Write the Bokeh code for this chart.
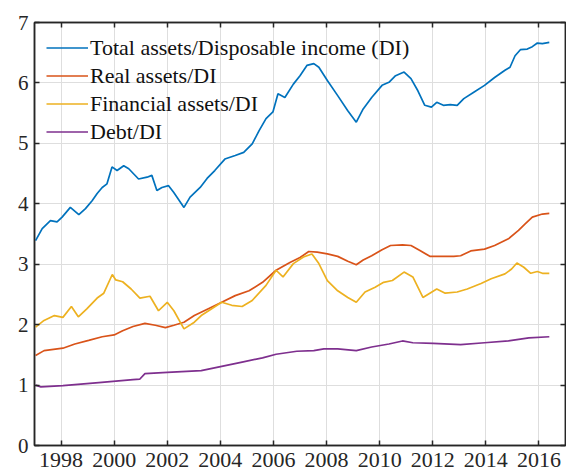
from bokeh.plotting import figure
from bokeh.models import LinearAxis, FixedTicker, Range1d
from bokeh.embed import file_html
from bokeh.resources import INLINE

# ---------------- data ----------------
total_x = [1997.04, 1997.29, 1997.6, 1997.85, 1998.04, 1998.35, 1998.67, 1998.92, 1999.17, 1999.36,
           1999.55, 1999.73, 1999.92, 2000.11, 2000.36, 2000.55, 2000.92, 2001.24, 2001.42, 2001.61,
           2001.8, 2002.05, 2002.24, 2002.63, 2002.86, 2003.24, 2003.5, 2003.79, 2004.17, 2004.56,
           2004.88, 2005.2, 2005.46, 2005.72, 2005.98, 2006.17, 2006.43, 2006.75, 2007.0, 2007.26,
           2007.52, 2007.71, 2008.03, 2008.42, 2008.8, 2009.12, 2009.38, 2009.7, 2010.09, 2010.35,
           2010.6, 2010.92, 2011.18, 2011.44, 2011.7, 2011.95, 2012.15, 2012.4, 2012.66, 2012.92,
           2013.17, 2013.56, 2013.95, 2014.33, 2014.72, 2014.91, 2015.1, 2015.3, 2015.56, 2015.75,
           2015.94, 2016.13, 2016.39]
total_y = [3.39, 3.59, 3.72, 3.70, 3.78, 3.94, 3.82, 3.92, 4.05, 4.17,
           4.27, 4.33, 4.61, 4.55, 4.63, 4.58, 4.41, 4.44, 4.47, 4.22,
           4.27, 4.30, 4.19, 3.94, 4.11, 4.27, 4.42, 4.55, 4.74, 4.80,
           4.85, 4.99, 5.21, 5.41, 5.52, 5.82, 5.76, 5.98, 6.12, 6.29,
           6.32, 6.26, 6.04, 5.79, 5.54, 5.35, 5.57, 5.76, 5.96, 6.01,
           6.12, 6.18, 6.07, 5.87, 5.63, 5.60, 5.68, 5.63, 5.64, 5.63,
           5.74, 5.85, 5.96, 6.09, 6.21, 6.26, 6.45, 6.55, 6.56, 6.60,
           6.66, 6.65, 6.67]

real_x = [1997.04, 1997.36, 1998.07, 1998.52, 1999.04, 1999.55, 2000.0, 2000.32, 2000.71, 2001.16,
          2001.55, 2001.93, 2002.25, 2002.63, 2003.02, 2003.53, 2004.05, 2004.56, 2005.08, 2005.59,
          2006.1, 2006.62, 2007.0, 2007.33, 2007.65, 2008.03, 2008.42, 2008.8, 2009.12, 2009.38,
          2009.7, 2010.09, 2010.41, 2010.86, 2011.18, 2011.5, 2011.89, 2012.28, 2012.79, 2013.05,
          2013.43, 2013.95, 2014.33, 2014.85, 2015.23, 2015.49, 2015.75, 2016.13, 2016.39]
real_y = [1.49, 1.57, 1.61, 1.68, 1.74, 1.80, 1.83, 1.90, 1.97, 2.02,
          1.99, 1.95, 1.99, 2.04, 2.15, 2.26, 2.37, 2.48, 2.56, 2.70,
          2.90, 3.03, 3.11, 3.21, 3.20, 3.17, 3.13, 3.05, 2.99, 3.07,
          3.14, 3.24, 3.31, 3.32, 3.31, 3.23, 3.13, 3.13, 3.13, 3.14,
          3.22, 3.25, 3.31, 3.42, 3.56, 3.67, 3.78, 3.83, 3.84]

fin_x = [1997.04, 1997.36, 1997.75, 1998.07, 1998.39, 1998.65, 1998.97, 1999.36, 1999.61, 1999.93,
         2000.06, 2000.32, 2000.64, 2000.97, 2001.35, 2001.67, 2002.0, 2002.25, 2002.63, 2003.02,
         2003.28, 2003.66, 2004.05, 2004.43, 2004.82, 2005.2, 2005.72, 2006.1, 2006.36, 2006.75,
         2007.13, 2007.45, 2007.71, 2008.03, 2008.42, 2008.8, 2009.12, 2009.45, 2009.83, 2010.15,
         2010.48, 2010.92, 2011.25, 2011.63, 2012.15, 2012.47, 2012.92, 2013.3, 2013.82, 2014.2,
         2014.72, 2014.97, 2015.17, 2015.43, 2015.69, 2015.94, 2016.13, 2016.39]
fin_y = [1.96, 2.07, 2.15, 2.12, 2.30, 2.13, 2.26, 2.44, 2.52, 2.83,
         2.74, 2.71, 2.59, 2.44, 2.47, 2.23, 2.37, 2.23, 1.93, 2.04,
         2.15, 2.26, 2.37, 2.32, 2.30, 2.40, 2.65, 2.90, 2.79, 3.01,
         3.12, 3.17, 3.01, 2.73, 2.56, 2.45, 2.37, 2.54, 2.62, 2.70,
         2.73, 2.87, 2.79, 2.45, 2.59, 2.52, 2.54, 2.59, 2.68, 2.76,
         2.84, 2.92, 3.02, 2.95, 2.85, 2.88, 2.85, 2.85]

debt_x = [1997.04, 1997.24, 1998.07, 1999.42, 2000.71, 2000.97, 2001.16, 2002.0, 2003.28, 2004.05,
          2004.82, 2005.59, 2006.1, 2006.88, 2007.52, 2007.9, 2008.42, 2009.12, 2009.7, 2010.35,
          2010.86, 2011.25, 2012.02, 2013.05, 2013.95, 2014.85, 2015.62, 2016.39]
debt_y = [1.00, 0.97, 0.99, 1.04, 1.09, 1.10, 1.19, 1.21, 1.24, 1.31,
          1.38, 1.45, 1.51, 1.56, 1.57, 1.60, 1.60, 1.57, 1.63, 1.68,
          1.73, 1.70, 1.69, 1.67, 1.70, 1.73, 1.78, 1.80]

series_labels = ["Total assets/Disposable income (DI)", "Real assets/DI",
                 "Financial assets/DI", "Debt/DI"]
x_ticks = [1998, 2000, 2002, 2004, 2006, 2008, 2010, 2012, 2014, 2016]
y_ticks = [0, 1, 2, 3, 4, 5, 6, 7]

# ---------------- styling ----------------
FONT = "Liberation Serif"
DARK = "#262626"
colors = ["#0072BD", "#D95319", "#EDB120", "#7E2F8E"]

p = figure(width=566, height=475,
           x_range=Range1d(1997, 2017), y_range=Range1d(0, 7),
           output_backend="svg", toolbar_location=None,
           min_border_left=34, min_border_right=1,
           min_border_top=22, min_border_bottom=30)
p.background_fill_color = "white"
p.border_fill_color = "white"
p.outline_line_color = DARK
p.outline_line_width = 1.5

for xs, ys, c, lab in zip([total_x, real_x, fin_x, debt_x],
                          [total_y, real_y, fin_y, debt_y],
                          colors, series_labels):
    p.line(xs, ys, line_color=c, line_width=1.7, legend_label=lab)

# main axes
p.xaxis.ticker = FixedTicker(ticks=x_ticks)
p.yaxis.ticker = FixedTicker(ticks=y_ticks)
for ax in (p.xaxis[0], p.yaxis[0]):
    ax.axis_line_color = DARK
    ax.axis_line_width = 1.5
    ax.major_tick_line_color = DARK
    ax.major_tick_line_width = 1.5
    ax.major_tick_in = 5
    ax.major_tick_out = 0
    ax.minor_tick_line_color = None
    ax.major_label_text_font = FONT
    ax.major_label_text_color = DARK
p.xaxis.major_label_text_font_size = "22px"
p.xaxis.major_label_standoff = 7
p.yaxis.major_label_text_font_size = "21px"
p.yaxis.major_label_standoff = 6

# mirrored tick marks on top and right (no labels)
def tick_axis(ticks):
    return LinearAxis(ticker=FixedTicker(ticks=ticks),
                      major_label_overrides={t: "" for t in ticks},
                      major_label_standoff=0, major_tick_in=5, major_tick_out=0,
                      axis_line_color=DARK, axis_line_width=1.5,
                      major_tick_line_color=DARK, major_tick_line_width=1.5,
                      minor_tick_line_color=None)

p.add_layout(tick_axis(x_ticks), "above")
p.add_layout(tick_axis(y_ticks), "right")

# grid
p.xgrid.ticker = FixedTicker(ticks=x_ticks)
p.ygrid.ticker = FixedTicker(ticks=y_ticks)
p.grid.grid_line_color = "#dedede"
p.grid.grid_line_width = 1

# legend
lg = p.legend[0]
lg.location = "top_left"
lg.margin = 12
lg.padding = 2
lg.spacing = 1
lg.label_height = 27
lg.glyph_height = 27
lg.glyph_width = 42
lg.label_standoff = 2
lg.label_text_font = FONT
lg.label_text_font_size = "22px"
lg.label_text_color = "#111111"
lg.background_fill_alpha = 0
lg.border_line_color = None

open("out.html", "w").write(file_html(p, INLINE))
